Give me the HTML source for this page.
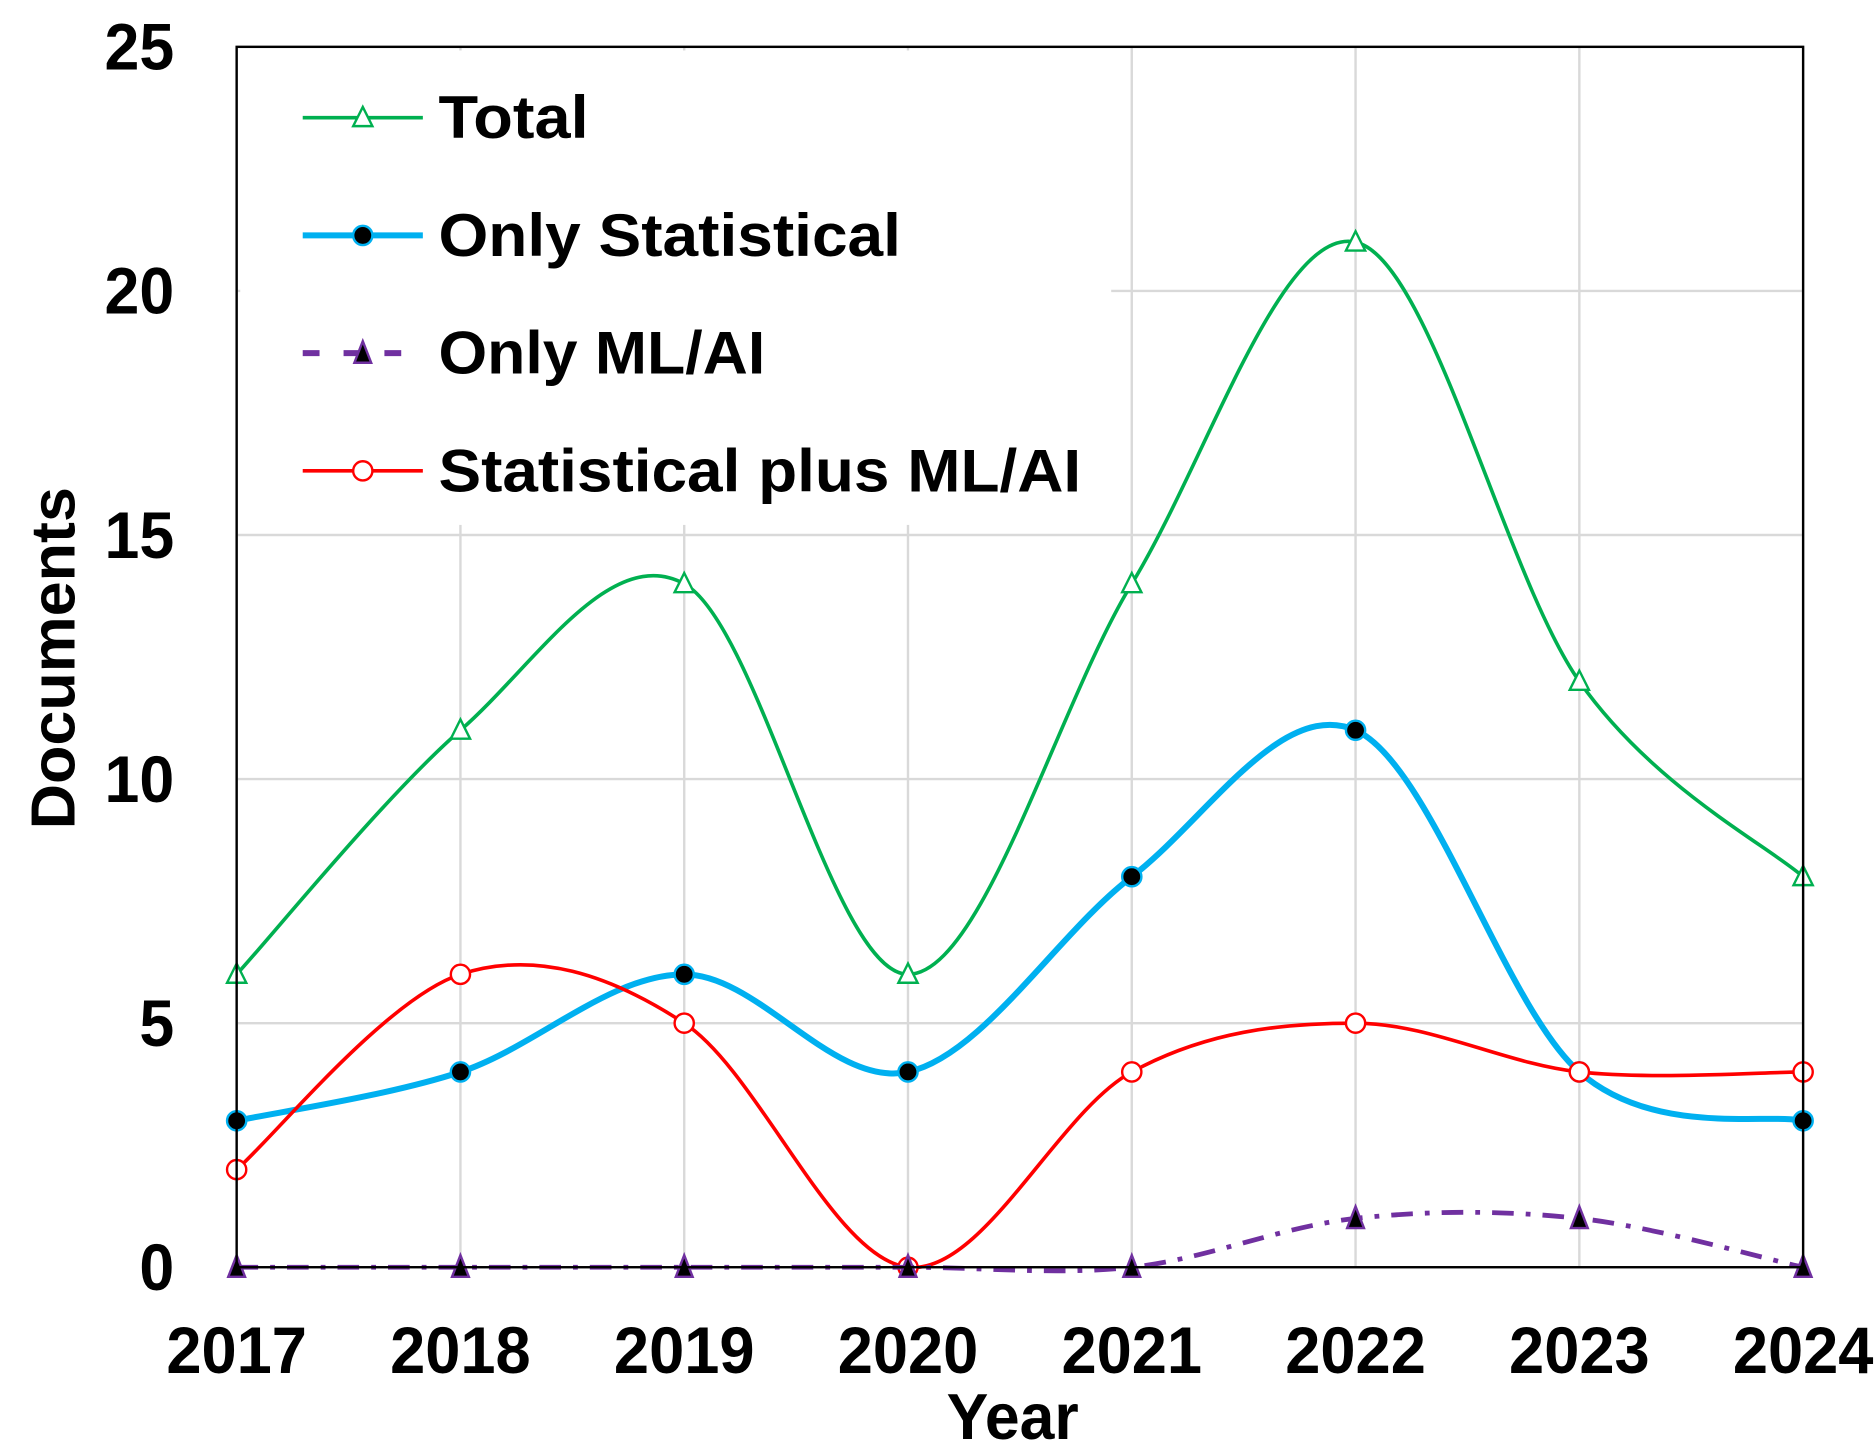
<!DOCTYPE html>
<html><head><meta charset="utf-8"><style>
html,body{margin:0;padding:0;background:#fff}
svg{display:block}
text{font-family:"Liberation Sans Narrow","Liberation Sans",sans-serif;font-weight:bold;fill:#000}
</style></head><body>
<svg id="chart" width="1874" height="1445" viewBox="0 0 1560 1203" preserveAspectRatio="none" xmlns="http://www.w3.org/2000/svg">
<g id="grid"></g>
<rect x="200" y="42" width="725" height="395" fill="#fff"/>
<g id="series"></g>
<rect x="197" y="39" width="1304" height="1016" fill="none" stroke="#000" stroke-width="2"/>
<g id="axes"></g>
<g id="legend"></g>
</svg>
<script>
const years = ["2017","2018","2019","2020","2021","2022","2023","2024"];
const totalVals = [6,11,14,6,14,21,12,8];
const statVals = [3,4,6,4,8,11,4,3];
const mlVals = [0,0,0,0,0,1,1,0];
const plusVals = [2,6,5,0,4,5,4,4];
const yTicks = [0,5,10,15,20,25];
const seriesNames = ["Total","Only Statistical","Only ML/AI","Statistical plus ML/AI"];

const NS="http://www.w3.org/2000/svg";
const L=197,R=1501,T=39,B=1055;
function xs(i){return L+(R-L)*i/(years.length-1);}
function ys(v){return B-(B-T)*v/25;}
function mk(tag,attrs,parent){const e=document.createElementNS(NS,tag);for(const k in attrs)e.setAttribute(k,attrs[k]);parent.appendChild(e);return e;}
const grid=document.getElementById('grid'),series=document.getElementById('series'),axes=document.getElementById('axes'),legend=document.getElementById('legend');

years.forEach((y,i)=>{
  const g=mk('line',{x1:xs(i),x2:xs(i),y1:T,y2:B,stroke:'#d9d9d9','stroke-width':2},grid);
  
  
  const t=mk('text',{x:xs(i),y:1143,'text-anchor':'middle','font-size':55,textLength:117,lengthAdjust:'spacingAndGlyphs'},axes);
  t.textContent=y;
  
  
});
yTicks.forEach(v=>{
  const g=mk('line',{x1:L,x2:R,y1:ys(v),y2:ys(v),stroke:'#d9d9d9','stroke-width':2},grid);
  
  
  const s=String(v);
  const t=mk('text',{x:145,y:ys(v)+19,'text-anchor':'end','font-size':55,textLength:s.length*29,lengthAdjust:'spacingAndGlyphs'},axes);
  t.textContent=s;
  
  
});
const xt=mk('text',{x:843,y:1198,'text-anchor':'middle','font-size':54,textLength:110,lengthAdjust:'spacingAndGlyphs'},axes);
xt.textContent='Year';


const yt=mk('text',{x:0,y:0,'text-anchor':'middle','font-size':52,textLength:285,lengthAdjust:'spacingAndGlyphs',transform:'translate(62,548) rotate(-90)'},axes);
yt.textContent='Documents';



function smooth(vals){
  const p=vals.map((v,i)=>[xs(i),ys(v)]);
  let d=`M${p[0][0]},${p[0][1]}`;
  for(let i=0;i<p.length-1;i++){
    const p0=p[i-1]||p[i],p1=p[i],p2=p[i+1],p3=p[i+2]||p[i+1];
    const c1=[p1[0]+(p2[0]-p0[0])/6,p1[1]+(p2[1]-p0[1])/6];
    const c2=[p2[0]-(p3[0]-p1[0])/6,p2[1]-(p3[1]-p1[1])/6];
    d+=` C${c1[0]},${c1[1]} ${c2[0]},${c2[1]} ${p2[0]},${p2[1]}`;
  }
  return d;
}
function marker(type,x,y,parent,name){
  let e;
  if(type==='tri-open') e=mk('path',{d:`M${x},${y-9} L${x+8},${y+7} L${x-8},${y+7} Z`,fill:'#fff',stroke:'#00b050','stroke-width':2},parent);
  else if(type==='dot') e=mk('circle',{cx:x,cy:y,r:8,fill:'#000',stroke:'#00b0f0','stroke-width':2},parent);
  else if(type==='tri-fill') e=mk('path',{d:`M${x},${y-10} L${x+7},${y+8} L${x-7},${y+8} Z`,fill:'#000',stroke:'#7030a0','stroke-width':2},parent);
  else e=mk('circle',{cx:x,cy:y,r:8,fill:'#fff',stroke:'#ff0000','stroke-width':2},parent);
  
  
}
const defs=[
 {vals:totalVals,color:'#00b050',w:3,dash:null,m:'tri-open',n:'total'},
 {vals:statVals,color:'#00b0f0',w:5,dash:null,m:'dot',n:'only-statistical'},
 {vals:plusVals,color:'#ff0000',w:3,dash:null,m:'circle',n:'statistical-plus-ml-ai'},
 {vals:mlVals,color:'#7030a0',w:4,dash:'18,10,4,10',m:'tri-fill',n:'only-ml-ai'}
];
defs.forEach(s=>{
  const a={d:smooth(s.vals),fill:'none',stroke:s.color,'stroke-width':s.w};
  if(s.dash)a['stroke-dasharray']=s.dash;
  const p=mk('path',a,series);
  
  
  s.vals.forEach((v,i)=>marker(s.m,xs(i),ys(v),series,s.n+'-point'));
});
const leg=[
 {c:'#00b050',w:3,dash:null,m:'tri-open',n:'legend-total'},
 {c:'#00b0f0',w:5,dash:null,m:'dot',n:'legend-only-statistical'},
 {c:'#7030a0',w:5,dash:'14,20',m:'tri-fill',n:'legend-only-ml-ai'},
 {c:'#ff0000',w:3,dash:null,m:'circle',n:'legend-statistical-plus-ml-ai'}
];
const lw=[125,385,272,535];
leg.forEach((s,i)=>{
  const y=98+i*98;
  const a={x1:252,x2:352,y1:y,y2:y,stroke:s.c,'stroke-width':s.w};
  if(s.dash)a['stroke-dasharray']=s.dash;
  const l=mk('line',a,legend);
  
  
  marker(s.m,302,y,legend,s.n+'-marker');
  const t=mk('text',{x:365,y:y+17,'font-size':50,textLength:lw[i],lengthAdjust:'spacingAndGlyphs'},legend);
  t.textContent=seriesNames[i];
  
  
});
</script>
</body></html>
